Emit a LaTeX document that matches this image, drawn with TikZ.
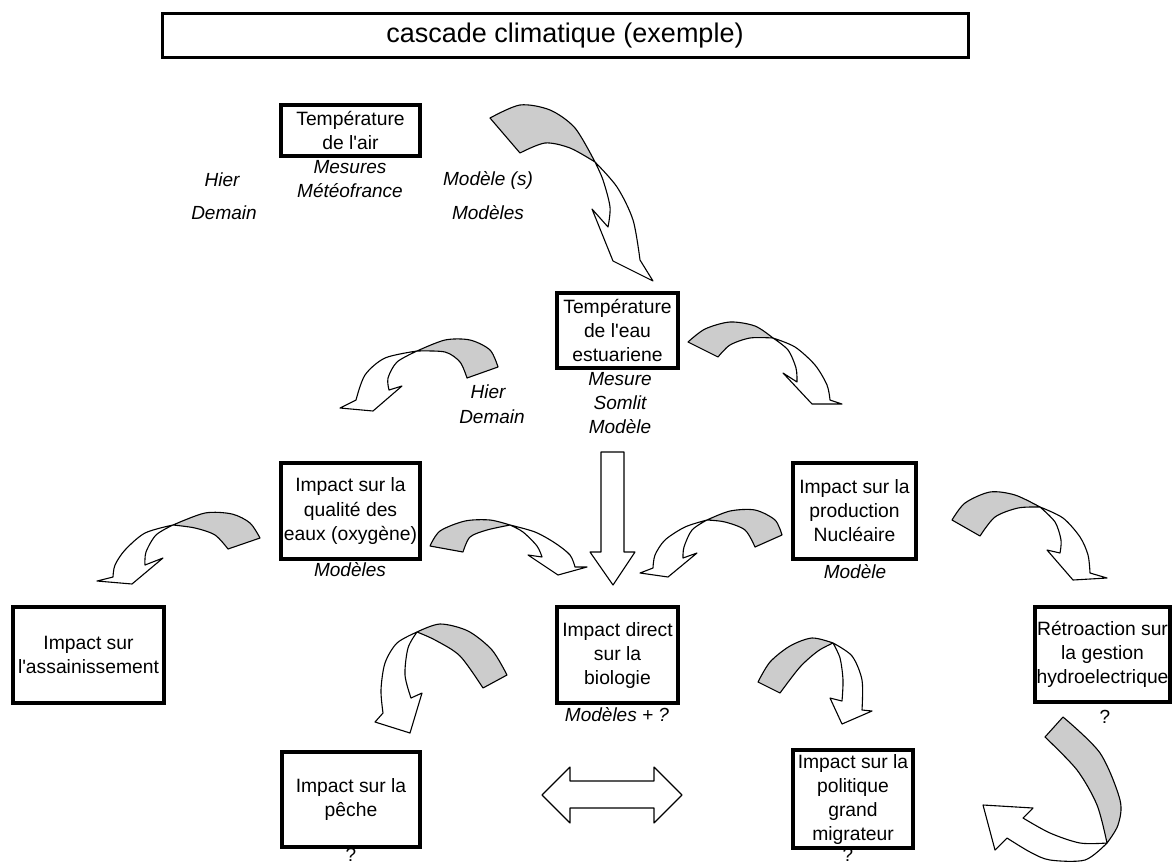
\documentclass[tikz,border=0pt]{standalone}
\usepackage{fontspec}
\setmainfont{Liberation Sans}
\newcommand{\ap}{\textquotesingle}
\begin{document}
\begin{tikzpicture}[x=1pt,y=-1pt,
  box/.style={draw, line width=4pt, align=center, inner sep=0pt, font=\fontsize{19.3}{24}\selectfont},
  lbl/.style={align=center, inner sep=0pt, font=\fontsize{19}{24}\selectfont\itshape},
  qm/.style={inner sep=0pt, font=\fontsize{19}{24}\selectfont},
  grayp/.style={draw, line width=1.1pt, fill=gray!40, line join=round},
  whitep/.style={draw, line width=1.1pt, fill=white, line join=round},
  titlebox/.style={draw, line width=3pt, inner sep=0pt, font=\fontsize{27}{30}\selectfont}]
\useasboundingbox (0,0) rectangle (1174,865);

% title
\node[titlebox, minimum width=806, minimum height=44] (title) at (565,35.5) {cascade climatique (exemple)};

% boxes
\node[box, minimum width=139, minimum height=51] (air) at (350.5,130.5) {Température\\de l\ap air};
\node[box, minimum width=121, minimum height=75] (eau) at (617.5,330.5) {Température\\de l\ap eau\\estuariene};
\node[box, minimum width=139, minimum height=96] (qual) at (350.5,511) {Impact sur la\\qualité des\\eaux (oxygène)};
\node[box, minimum width=123, minimum height=96] (nuc) at (854.5,511) {Impact sur la\\production\\Nucléaire};
\node[box, minimum width=151, minimum height=96] (ass) at (88.5,655) {Impact sur\\l\ap assainissement};
\node[box, minimum width=121, minimum height=96] (bio) at (617.5,655) {Impact direct\\sur la\\biologie};
\node[box, minimum width=135, minimum height=95] (retro) at (1102.5,654.5) {Rétroaction sur\\la gestion\\hydroelectrique};
\node[box, minimum width=138, minimum height=95] (peche) at (351,799.5) {Impact sur la\\pêche};
\node[box, minimum width=120, minimum height=98] (pol) at (853,799) {Impact sur la\\politique\\grand\\migrateur};

% labels
\node[lbl] (mesair) at (350,179) {Mesures\\Météofrance};
\node[lbl] (hier1) at (222,180) {Hier};
\node[lbl] (demain1) at (224,213) {Demain};
\node[lbl] (mod1) at (488,180) {Modèle (s)};
\node[lbl] (mod2) at (488,213) {Modèles};
\node[lbl] (meseau) at (620,403) {Mesure\\Somlit\\Modèle};
\node[lbl] (hier2) at (488,392) {Hier};
\node[lbl] (demain2) at (492,417) {Demain};
\node[lbl] (modq) at (350,570) {Modèles};
\node[lbl] (modn) at (855,572) {Modèle};
\node[lbl] (modb) at (617,715) {Modèles + ?};
\node[qm] (qr) at (1105,717) {?};
\node[qm] (qp) at (351,855) {?};
\node[qm] (qpol) at (848,855) {?};

% A1 air -> eau
\path[grayp] plot[smooth] coordinates {(490,118) (520,105) (550,110) (575,128) (595,162)} -- plot[smooth] coordinates {(595,162) (570,148) (545,143) (520,153)} -- cycle;
\path[whitep] plot[smooth] coordinates {(595,162) (617,187) (633,220) (640,260)} -- (653,281) -- (613,261) -- (592,209) -- plot[smooth] coordinates {(608,227) (610,207) (603,180) (595,162)} -- cycle;

% A2 eau -> left
\path[grayp] plot[smooth] coordinates {(498,367) (490,350) (470,340) (445,340) (417,351)} -- plot[smooth] coordinates {(417,351) (445,352) (460,362) (467,378)} -- cycle;
\path[whitep] plot[smooth] coordinates {(417,351) (385,358) (365,375) (356,400)} -- (340,408) -- (373,411) -- (402,386) -- plot[smooth] coordinates {(389,390) (388,378) (397,362) (417,351)} -- cycle;

% A3 eau -> right
\path[grayp] plot[smooth] coordinates {(688,342) (705,329) (730,322) (755,326) (773,338)} -- plot[smooth] coordinates {(773,338) (750,338) (730,345) (718,357)} -- cycle;
\path[whitep] plot[smooth] coordinates {(773,338) (795,347) (815,365) (827,385) (830,400)} -- (842,404) -- (812,404) -- (783,373) -- plot[smooth] coordinates {(797,382) (796,368) (788,350) (773,338)} -- cycle;

% A4 qualite -> assainissement
\path[grayp] plot[smooth] coordinates {(260,538) (250,523) (232,514) (205,513) (173,525)} -- plot[smooth] coordinates {(173,525) (195,528) (215,535) (228,549)} -- cycle;
\path[whitep] plot[smooth] coordinates {(173,525) (145,533) (125,550) (115,565) (113,577)} -- (97,581) -- (132,584) -- (163,558) -- plot[smooth] coordinates {(145,565) (146,552) (156,535) (173,525)} -- cycle;

% A5 qualite -> biologie
\path[grayp] plot[smooth] coordinates {(430,546) (440,531) (465,521) (490,520) (510,525)} -- plot[smooth] coordinates {(510,525) (487,530) (470,537) (463,552)} -- cycle;
\path[whitep] plot[smooth] coordinates {(510,525) (535,532) (555,543) (570,555) (575,567)} -- (587,567) -- (558,575) -- (528,555) -- plot[smooth] coordinates {(542,557) (537,546) (523,532) (510,525)} -- cycle;

% A6 nucleaire -> biologie
\path[grayp] plot[smooth] coordinates {(782,535) (775,520) (755,510) (730,511) (707,520)} -- plot[smooth] coordinates {(707,520) (725,522) (745,530) (755,547)} -- cycle;
\path[whitep] plot[smooth] coordinates {(707,520) (685,527) (665,540) (655,555) (653,568)} -- (640,573) -- (668,577) -- (697,553) -- plot[smooth] coordinates {(683,558) (684,547) (692,530) (707,520)} -- cycle;

% A7 nucleaire -> retroaction
\path[grayp] plot[smooth] coordinates {(952,520) (965,503) (990,492) (1015,495) (1040,507)} -- plot[smooth] coordinates {(1040,507) (1018,508) (995,517) (980,536)} -- cycle;
\path[whitep] plot[smooth] coordinates {(1040,507) (1063,518) (1080,537) (1088,555) (1090,573)} -- (1107,578) -- (1073,580) -- (1047,550) -- plot[smooth] coordinates {(1060,553) (1061,540) (1055,522) (1040,507)} -- cycle;

% A8 biologie -> peche
\path[grayp] plot[smooth] coordinates {(507,675) (492,650) (468,631) (440,624) (417,632)} -- plot[smooth] coordinates {(417,632) (435,640) (460,656) (483,688)} -- cycle;
\path[whitep] plot[smooth] coordinates {(417,632) (397,643) (385,663) (381,690) (383,713)} -- (375,722) -- (410,733) -- (422,693) -- plot[smooth] coordinates {(411,698) (405,675) (408,648) (417,632)} -- cycle;

% A9 biologie -> politique
\path[grayp] plot[smooth] coordinates {(758,682) (770,662) (790,646) (812,638) (833,643)} -- plot[smooth] coordinates {(833,643) (818,651) (800,667) (780,693)} -- cycle;
\path[whitep] plot[smooth] coordinates {(833,643) (852,656) (862,680) (862,710)} -- (872,711) -- (842,724) -- (830,698) -- plot[smooth] coordinates {(842,701) (843,680) (840,658) (833,643)} -- cycle;

% A10 retroaction -> politique
\path[grayp] plot[smooth] coordinates {(1045,737) (1077,770) (1097,805) (1107,843)} -- plot[smooth] coordinates {(1107,843) (1118,825) (1120,800) (1100,753) (1063,717)} -- cycle;
\path[whitep] plot[smooth] coordinates {(1107,843) (1085,860) (1050,860) (1030,852) (1007,838)} -- (995,850) -- (983,805) -- (1033,808) -- plot[smooth] coordinates {(1023,818) (1050,833) (1080,843) (1107,843)} -- cycle;

% straight arrow eau -> biologie
\path[whitep] (601,452) -- (624,452) -- (624,552) -- (635,552) -- (613,585) -- (590,552) -- (601,552) -- cycle;

% double arrow peche <-> politique
\path[whitep] (542,795) -- (570,767) -- (570,781) -- (654,781) -- (654,767) -- (682,795) -- (654,823) -- (654,808) -- (570,808) -- (570,823) -- cycle;
\end{tikzpicture}
\end{document}
